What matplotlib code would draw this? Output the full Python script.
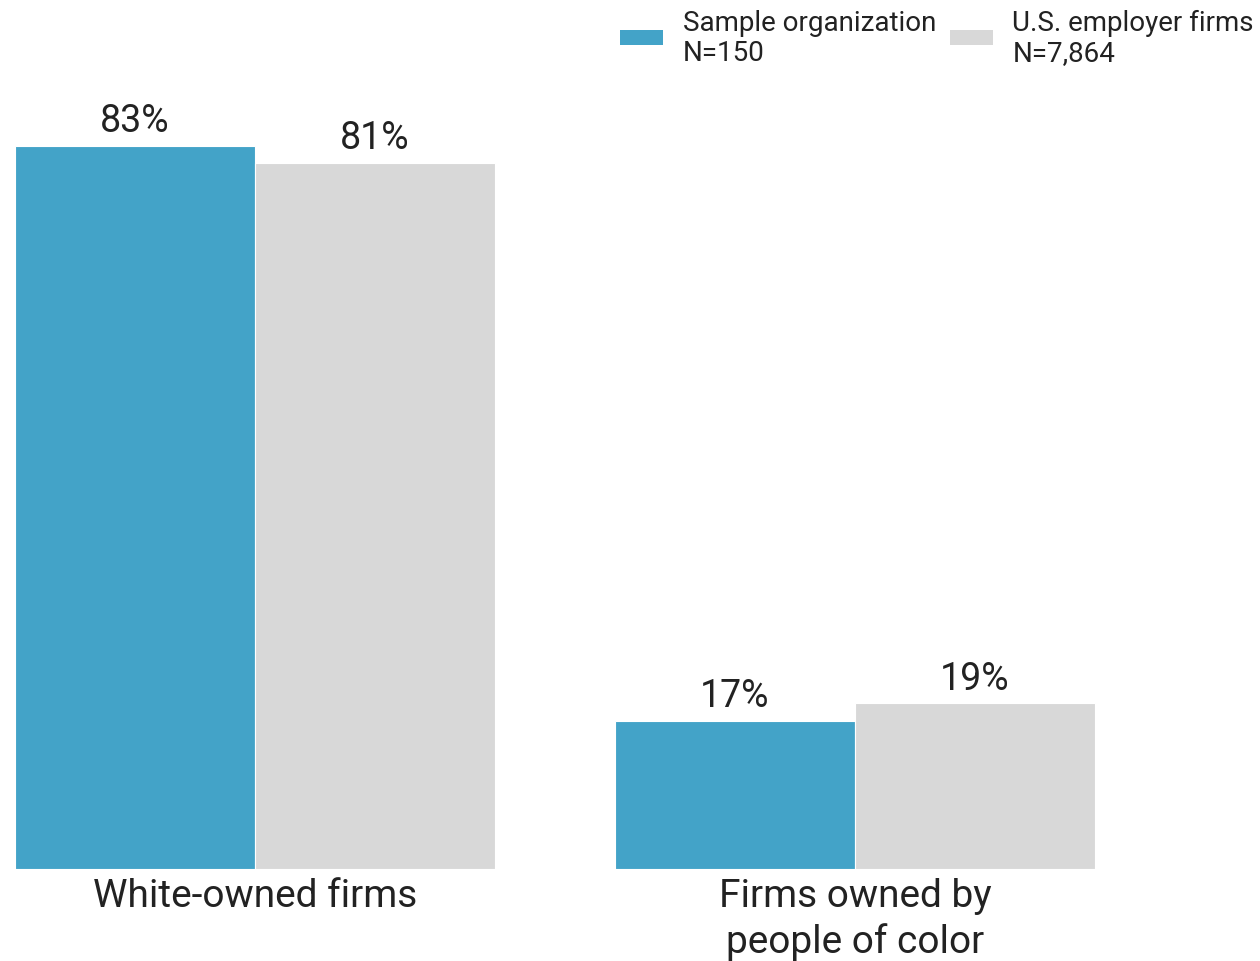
import matplotlib.pyplot as plt
from matplotlib.patches import Patch

categories = ['White-owned firms', 'Firms owned by\npeople of color']
sample_org = [83, 17]
us_firms = [81, 19]
series_labels = ['Sample organization\nN=150', 'U.S. employer firms\nN=7,864']

BLUE = '#43a3c8'
GRAY = '#d8d8d8'
TEXT = '#222222'
WIDTH = 0.4

plt.rcParams['font.family'] = ['Roboto', 'DejaVu Sans']

fig = plt.figure(figsize=(12.6, 9.62), dpi=100)
ax = fig.add_axes([15 / 1260, 92 / 962, 1 - 15 / 1260, (870 - 86) / 962])

x = list(range(len(categories)))
b1 = ax.bar([i - WIDTH / 2 for i in x], sample_org, WIDTH, color=BLUE, edgecolor='white', linewidth=0.8)
b2 = ax.bar([i + WIDTH / 2 for i in x], us_firms, WIDTH, color=GRAY, edgecolor='white', linewidth=0.8)

for bars, vals in ((b1, sample_org), (b2, us_firms)):
    for rect, v in zip(bars, vals):
        ax.annotate(f'{v}%', (rect.get_x() + rect.get_width() / 2, rect.get_height()),
                    xytext=(0, 5), textcoords='offset points', ha='center', va='bottom',
                    fontsize=27, color=TEXT)

ax.set_xlim(-0.4, (1260 - 255) / 600)
ax.set_ylim(0, 90)
ax.set_xticks(x)
ax.set_xticklabels(categories, fontsize=28, color=TEXT, linespacing=1.25)
ax.tick_params(axis='x', length=0, pad=6)
ax.set_yticks([])
for s in ax.spines.values():
    s.set_visible(False)

handles = [Patch(facecolor=BLUE), Patch(facecolor=GRAY)]
leg = fig.legend(handles, series_labels, loc='upper right', bbox_to_anchor=(1.015, 1.016), ncol=2,
                 frameon=False, fontsize=20, handlelength=1.55, handleheight=0.45, handletextpad=0.7,
                 columnspacing=0.5, labelcolor=TEXT, labelspacing=0.2)
for t in leg.get_texts():
    t.set_linespacing(1.15)

fig.savefig('out.png', dpi=100)
